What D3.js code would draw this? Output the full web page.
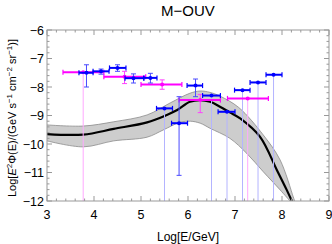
<!DOCTYPE html>
<html><head><meta charset="utf-8">
<script src="https://cdn.jsdelivr.net/npm/d3@7"></script>
<style>body{margin:0;background:#fff}svg{display:block}text{font-family:"Liberation Sans",Arial,sans-serif}</style>
</head><body><svg id="c" width="332" height="244"></svg>
<script>
// ---- data ----
const xTicks = [3, 4, 5, 6, 7, 8, 9];
const yTicks = [-6, -7, -8, -9, -10, -11, -12];

const curveX = [3.0, 3.77, 4.42, 5.13, 5.55, 5.77, 6.04, 6.26, 6.47, 6.68, 6.89, 7.11, 7.53, 7.89, 8.10, 8.21];
const curveY = [-9.65, -9.67, -9.47, -9.24, -8.98, -8.81, -8.52, -8.46, -8.52, -8.69, -8.89, -9.10, -9.74, -10.91, -11.61, -12.0];

const bandUpX = [3.0, 3.77, 4.42, 5.13, 5.62, 6.04, 6.26, 6.47, 6.68, 7.08, 7.60, 7.96, 8.24, 8.27];
const bandUpY = [-9.33, -9.37, -9.22, -8.98, -8.56, -8.22, -8.14, -8.19, -8.32, -8.72, -9.68, -10.56, -11.86, -12.0];
const bandLoX = [3.0, 3.77, 4.42, 5.13, 5.47, 5.83, 6.05, 6.26, 6.47, 6.89, 7.25, 7.60, 7.96, 8.17];
const bandLoY = [-9.89, -10.1, -9.89, -9.76, -9.51, -9.24, -9.2, -9.27, -9.45, -9.80, -10.33, -10.97, -11.61, -12.0];

const blueX   = [3.84, 4.15, 4.50, 4.84, 5.20, 6.16, 5.50, 5.81, 6.50, 6.83, 7.16, 7.49, 7.82];
const blueY   = [-7.50, -7.45, -7.33, -7.69, -7.68, -7.95, -8.75, -9.27, -8.30, -8.87, -8.11, -7.84, -7.57];
const blueXlo = [3.68, 3.98, 4.33, 4.66, 5.06, 5.98, 5.33, 5.65, 6.31, 6.64, 6.99, 7.32, 7.66];
const blueXhi = [3.98, 4.32, 4.68, 5.06, 5.34, 6.31, 5.67, 5.99, 6.69, 7.00, 7.32, 7.66, 8.00];
const blueYlo = [-8.0, -7.55, -7.45, -7.86, -7.86, -8.34, null, -11.1, null, null, null, null, null];
const blueYhi = [-7.22, -7.37, -7.22, -7.54, -7.52, -7.72, null, -8.34, null, null, null, null, null];

const magX   = [3.77, 4.65, 5.45, 6.26, 7.27];
const magY   = [-7.48, -7.64, -7.91, -8.46, -8.40];
const magXlo = [3.34, 4.21, 5.00, 5.81, 6.84];
const magXhi = [4.21, 5.10, 5.87, 6.69, 7.71];
const magYlo = [null, -7.88, -8.08, -8.90, null];
const magYhi = [null, -7.45, -7.75, -8.26, null];

// ---- layout ----
const svg = d3.select("#c");
const L = 47, R = 329, T = 30, B = 201;
const x = d3.scaleLinear().domain([3, 9]).range([L, R]);
const y = d3.scaleLinear().domain([-12, -6]).range([B, T]);
const frameCol = "#999";

// band
const band = bandUpX.map((v,i)=>[x(v), y(bandUpY[i])])
  .concat(bandLoX.map((v,i)=>[x(v), y(bandLoY[i])]).reverse());
const clip = svg.append("clipPath").attr("id","pc").append("rect")
  .attr("x",L).attr("y",T).attr("width",R-L).attr("height",B-T);
const g = svg.append("g").attr("clip-path","url(#pc)");
const smooth = d3.line().curve(d3.curveCatmullRom.alpha(0.5));
g.append("path")
  .attr("d", d3.line().curve(d3.curveCatmullRom.alpha(0.5))(bandUpX.map((v,i)=>[x(v), y(bandUpY[i])])) +
     "L" + d3.line().curve(d3.curveCatmullRom.alpha(0.5))(bandLoX.map((v,i)=>[x(v), y(bandLoY[i])]).reverse()).slice(1) + "Z")
  .attr("fill","#cdcdcd").attr("stroke","none");
g.append("path").attr("d", smooth(bandUpX.map((v,i)=>[x(v), y(bandUpY[i])])))
  .attr("fill","none").attr("stroke","#8a8a8a").attr("stroke-width",0.8);
g.append("path").attr("d", smooth(bandLoX.map((v,i)=>[x(v), y(bandLoY[i])])))
  .attr("fill","none").attr("stroke","#8a8a8a").attr("stroke-width",0.8);
g.append("path").attr("d", smooth(curveX.map((v,i)=>[x(v), y(curveY[i])])))
  .attr("fill","none").attr("stroke","#000").attr("stroke-width",2.2);

// pale limit lines
blueX.forEach((v,i)=>{ if(blueYlo[i]===null) g.append("line")
  .attr("x1",x(v)).attr("x2",x(v)).attr("y1",y(blueY[i])).attr("y2",B)
  .attr("stroke","#b4b4ff").attr("stroke-width",1); });
magX.forEach((v,i)=>{ if(magYlo[i]===null) g.append("line")
  .attr("x1",x(v)).attr("x2",x(v)).attr("y1",y(magY[i])).attr("y2",B)
  .attr("stroke","#ffa8ff").attr("stroke-width",1); });

function drawPoints(X, Y, Xlo, Xhi, Ylo, Yhi, col, vcol){
  X.forEach((v,i)=>{
    if(Ylo[i]!==null){
      g.append("line").attr("x1",x(v)).attr("x2",x(v)).attr("y1",y(Ylo[i])).attr("y2",y(Yhi[i]))
        .attr("stroke",vcol).attr("stroke-width",1);
      [Ylo[i],Yhi[i]].forEach(e=>g.append("line").attr("x1",x(v)-2.5).attr("x2",x(v)+2.5)
        .attr("y1",y(e)).attr("y2",y(e)).attr("stroke",vcol).attr("stroke-width",1));
    }
  });
  X.forEach((v,i)=>{
    g.append("line").attr("x1",x(Xlo[i])).attr("x2",x(Xhi[i])).attr("y1",y(Y[i])).attr("y2",y(Y[i]))
      .attr("stroke",col).attr("stroke-width",2);
    [Xlo[i],Xhi[i]].forEach(e=>g.append("line").attr("x1",x(e)).attr("x2",x(e))
      .attr("y1",y(Y[i])-2.5).attr("y2",y(Y[i])+2.5).attr("stroke",col).attr("stroke-width",1.2));
    g.append("circle").attr("cx",x(v)).attr("cy",y(Y[i])).attr("r",2).attr("fill",col);
  });
}
drawPoints(magX, magY, magXlo, magXhi, magYlo, magYhi, "#ff00ff", "#ff40ff");
drawPoints(blueX, blueY, blueXlo, blueXhi, blueYlo, blueYhi, "#0000ff", "#4a4aff");

// frame + ticks
svg.append("rect").attr("x",L).attr("y",T).attr("width",R-L).attr("height",B-T)
  .attr("fill","none").attr("stroke",frameCol).attr("stroke-width",1);
const ax = svg.append("g");
d3.range(3, 9.001, 0.2).forEach(t=>{
  const major = Math.abs(t-Math.round(t))<1e-6, len = major?5:2.5;
  ax.append("line").attr("x1",x(t)).attr("x2",x(t)).attr("y1",B).attr("y2",B-len).attr("stroke",frameCol);
  ax.append("line").attr("x1",x(t)).attr("x2",x(t)).attr("y1",T).attr("y2",T+len).attr("stroke",frameCol);
});
d3.range(-12, -5.999, 0.2).forEach(t=>{
  const major = Math.abs(t-Math.round(t))<1e-6, len = major?5:2.5;
  ax.append("line").attr("y1",y(t)).attr("y2",y(t)).attr("x1",L).attr("x2",L+len).attr("stroke",frameCol);
  ax.append("line").attr("y1",y(t)).attr("y2",y(t)).attr("x1",R).attr("x2",R-len).attr("stroke",frameCol);
});
xTicks.forEach(t=>svg.append("text").attr("x",x(t)).attr("y",219).attr("text-anchor","middle")
  .attr("font-size",12.5).text(String(t)));
yTicks.forEach(t=>svg.append("text").attr("x",44).attr("y",y(t)+4.5).attr("text-anchor","end")
  .attr("font-size",12.5).text("\u2212"+Math.abs(t)));

// labels
svg.append("text").attr("x",(L+R)/2).attr("y",16).attr("text-anchor","middle").attr("font-size",15).text("M\u2212OUV");
svg.append("text").attr("x",(L+R)/2).attr("y",241).attr("text-anchor","middle").attr("font-size",12).text("Log[E/GeV]");
const yl = svg.append("text").attr("transform","translate(16,118) rotate(-90)").attr("text-anchor","middle").attr("font-size",11);
yl.append("tspan").text("Log[");
yl.append("tspan").attr("font-style","italic").text("E");
yl.append("tspan").attr("dy",-4).attr("font-size",8).text("2");
yl.append("tspan").attr("dy",4).text("\u03A6(E)/(GeV s");
yl.append("tspan").attr("dy",-4).attr("font-size",8).text("\u22121");
yl.append("tspan").attr("dy",4).text(" cm");
yl.append("tspan").attr("dy",-4).attr("font-size",8).text("\u22122");
yl.append("tspan").attr("dy",4).text(" sr");
yl.append("tspan").attr("dy",-4).attr("font-size",8).text("\u22121");
yl.append("tspan").attr("dy",4).text(")]");
</script></body></html>
